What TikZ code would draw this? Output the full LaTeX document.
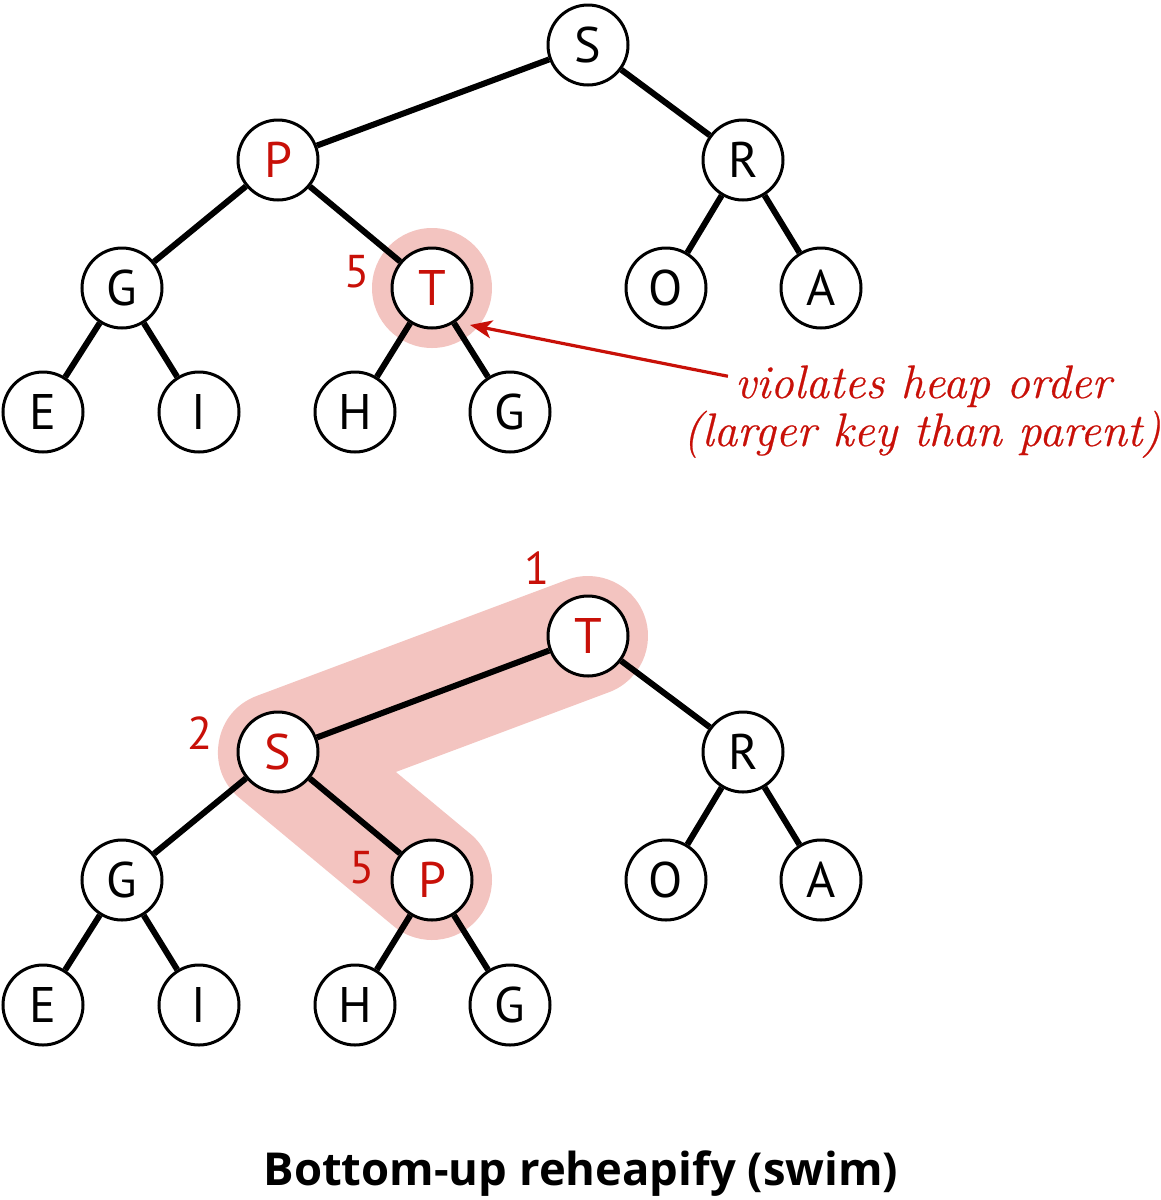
\documentclass[tikz,border=0pt]{standalone}
\usepackage{fontspec}
\setsansfont{PT Sans}
\newfontfamily\capfont{Open Sans}
\newfontfamily\notefont[FakeBold=0.5]{Latin Modern Roman}
\usetikzlibrary{arrows.meta,backgrounds}
\definecolor{heapred}{RGB}{200,16,8}
\definecolor{hilite}{RGB}{243,196,192}
\tikzset{
  key/.style={circle, draw=black, line width=1.5pt, fill=white, minimum size=40pt,
    inner sep=0pt, font=\sffamily\fontsize{25}{25}\selectfont},
  hot/.style={key, text=heapred},
  link/.style={line width=3pt},
  num/.style={text=heapred, font=\sffamily\fontsize{23}{23}\selectfont},
  note/.style={text=heapred, font=\notefont\itshape\fontsize{23.5}{23.5}\selectfont},
  band/.style={draw=hilite, line width=60pt, line cap=round, line join=round},
  pointer/.style={draw=heapred, line width=1.6pt, -{Stealth[length=11pt,width=9pt,inset=3pt]}}
}
\begin{document}
\begin{tikzpicture}[x=0.5pt, y=-0.5pt]
  \useasboundingbox (0,0) rectangle (1161,1200);

  % heap with T out of place
  \node[key] (s) at (588,45) {S};
  \node[hot] (p) at (278,160) {P};
  \node[key] (r) at (743,160) {R};
  \node[key] (g) at (122,288) {G};
  \node[hot] (t) at (432,288) {T};
  \node[key] (o) at (666,288) {O};
  \node[key] (a) at (821,288) {A};
  \node[key] (e) at (43,412) {E};
  \node[key] (i) at (199,412) {I};
  \node[key] (h) at (355,412) {H};
  \node[key] (g2) at (510,412) {G};
  \draw[link] (s) -- (p);
  \draw[link] (s) -- (r);
  \draw[link] (p) -- (g);
  \draw[link] (p) -- (t);
  \draw[link] (r) -- (o);
  \draw[link] (r) -- (a);
  \draw[link] (g) -- (e);
  \draw[link] (g) -- (i);
  \draw[link] (t) -- (h);
  \draw[link] (t) -- (g2);
  \node[num] (tn) at (357,272) {5};
  \begin{scope}[on background layer]
    \fill[hilite] (t.center) circle (60);
  \end{scope}

  \node[note, anchor=base] (note1) at (923,398) {violates heap order};
  \node[note, anchor=base] (note2) at (922,446) {(larger key than parent)};
  \path (t) ++(38,37) coordinate (ttip);
  \draw[pointer] ([yshift=5pt]note1.west) -- (ttip);

  % after swimming T up
  \node[hot] (sb) at (588,636) {T};
  \node[hot] (pb) at (278,752) {S};
  \node[key] (rb) at (743,752) {R};
  \node[key] (gb) at (122,880) {G};
  \node[hot] (tb) at (432,880) {P};
  \node[key] (ob) at (666,880) {O};
  \node[key] (ab) at (821,880) {A};
  \node[key] (eb) at (43,1005) {E};
  \node[key] (ib) at (199,1005) {I};
  \node[key] (hb) at (355,1005) {H};
  \node[key] (g2b) at (510,1005) {G};
  \draw[link] (sb) -- (pb);
  \draw[link] (sb) -- (rb);
  \draw[link] (pb) -- (gb);
  \draw[link] (pb) -- (tb);
  \draw[link] (rb) -- (ob);
  \draw[link] (rb) -- (ab);
  \draw[link] (gb) -- (eb);
  \draw[link] (gb) -- (ib);
  \draw[link] (tb) -- (hb);
  \draw[link] (tb) -- (g2b);
  \node[num] (sbn) at (537,568) {1};
  \node[num] (pbn) at (200,733) {2};
  \node[num] (tbn) at (362,868) {5};
  \begin{scope}[on background layer]
    \draw[band] (sb.center) -- (pb.center) -- (tb.center);
  \end{scope}

  \node[font=\capfont\bfseries\fontsize{22.7}{22.7}\selectfont, anchor=base] (caption) at (581,1185) {Bottom-up reheapify (swim)};
\end{tikzpicture}
\end{document}
